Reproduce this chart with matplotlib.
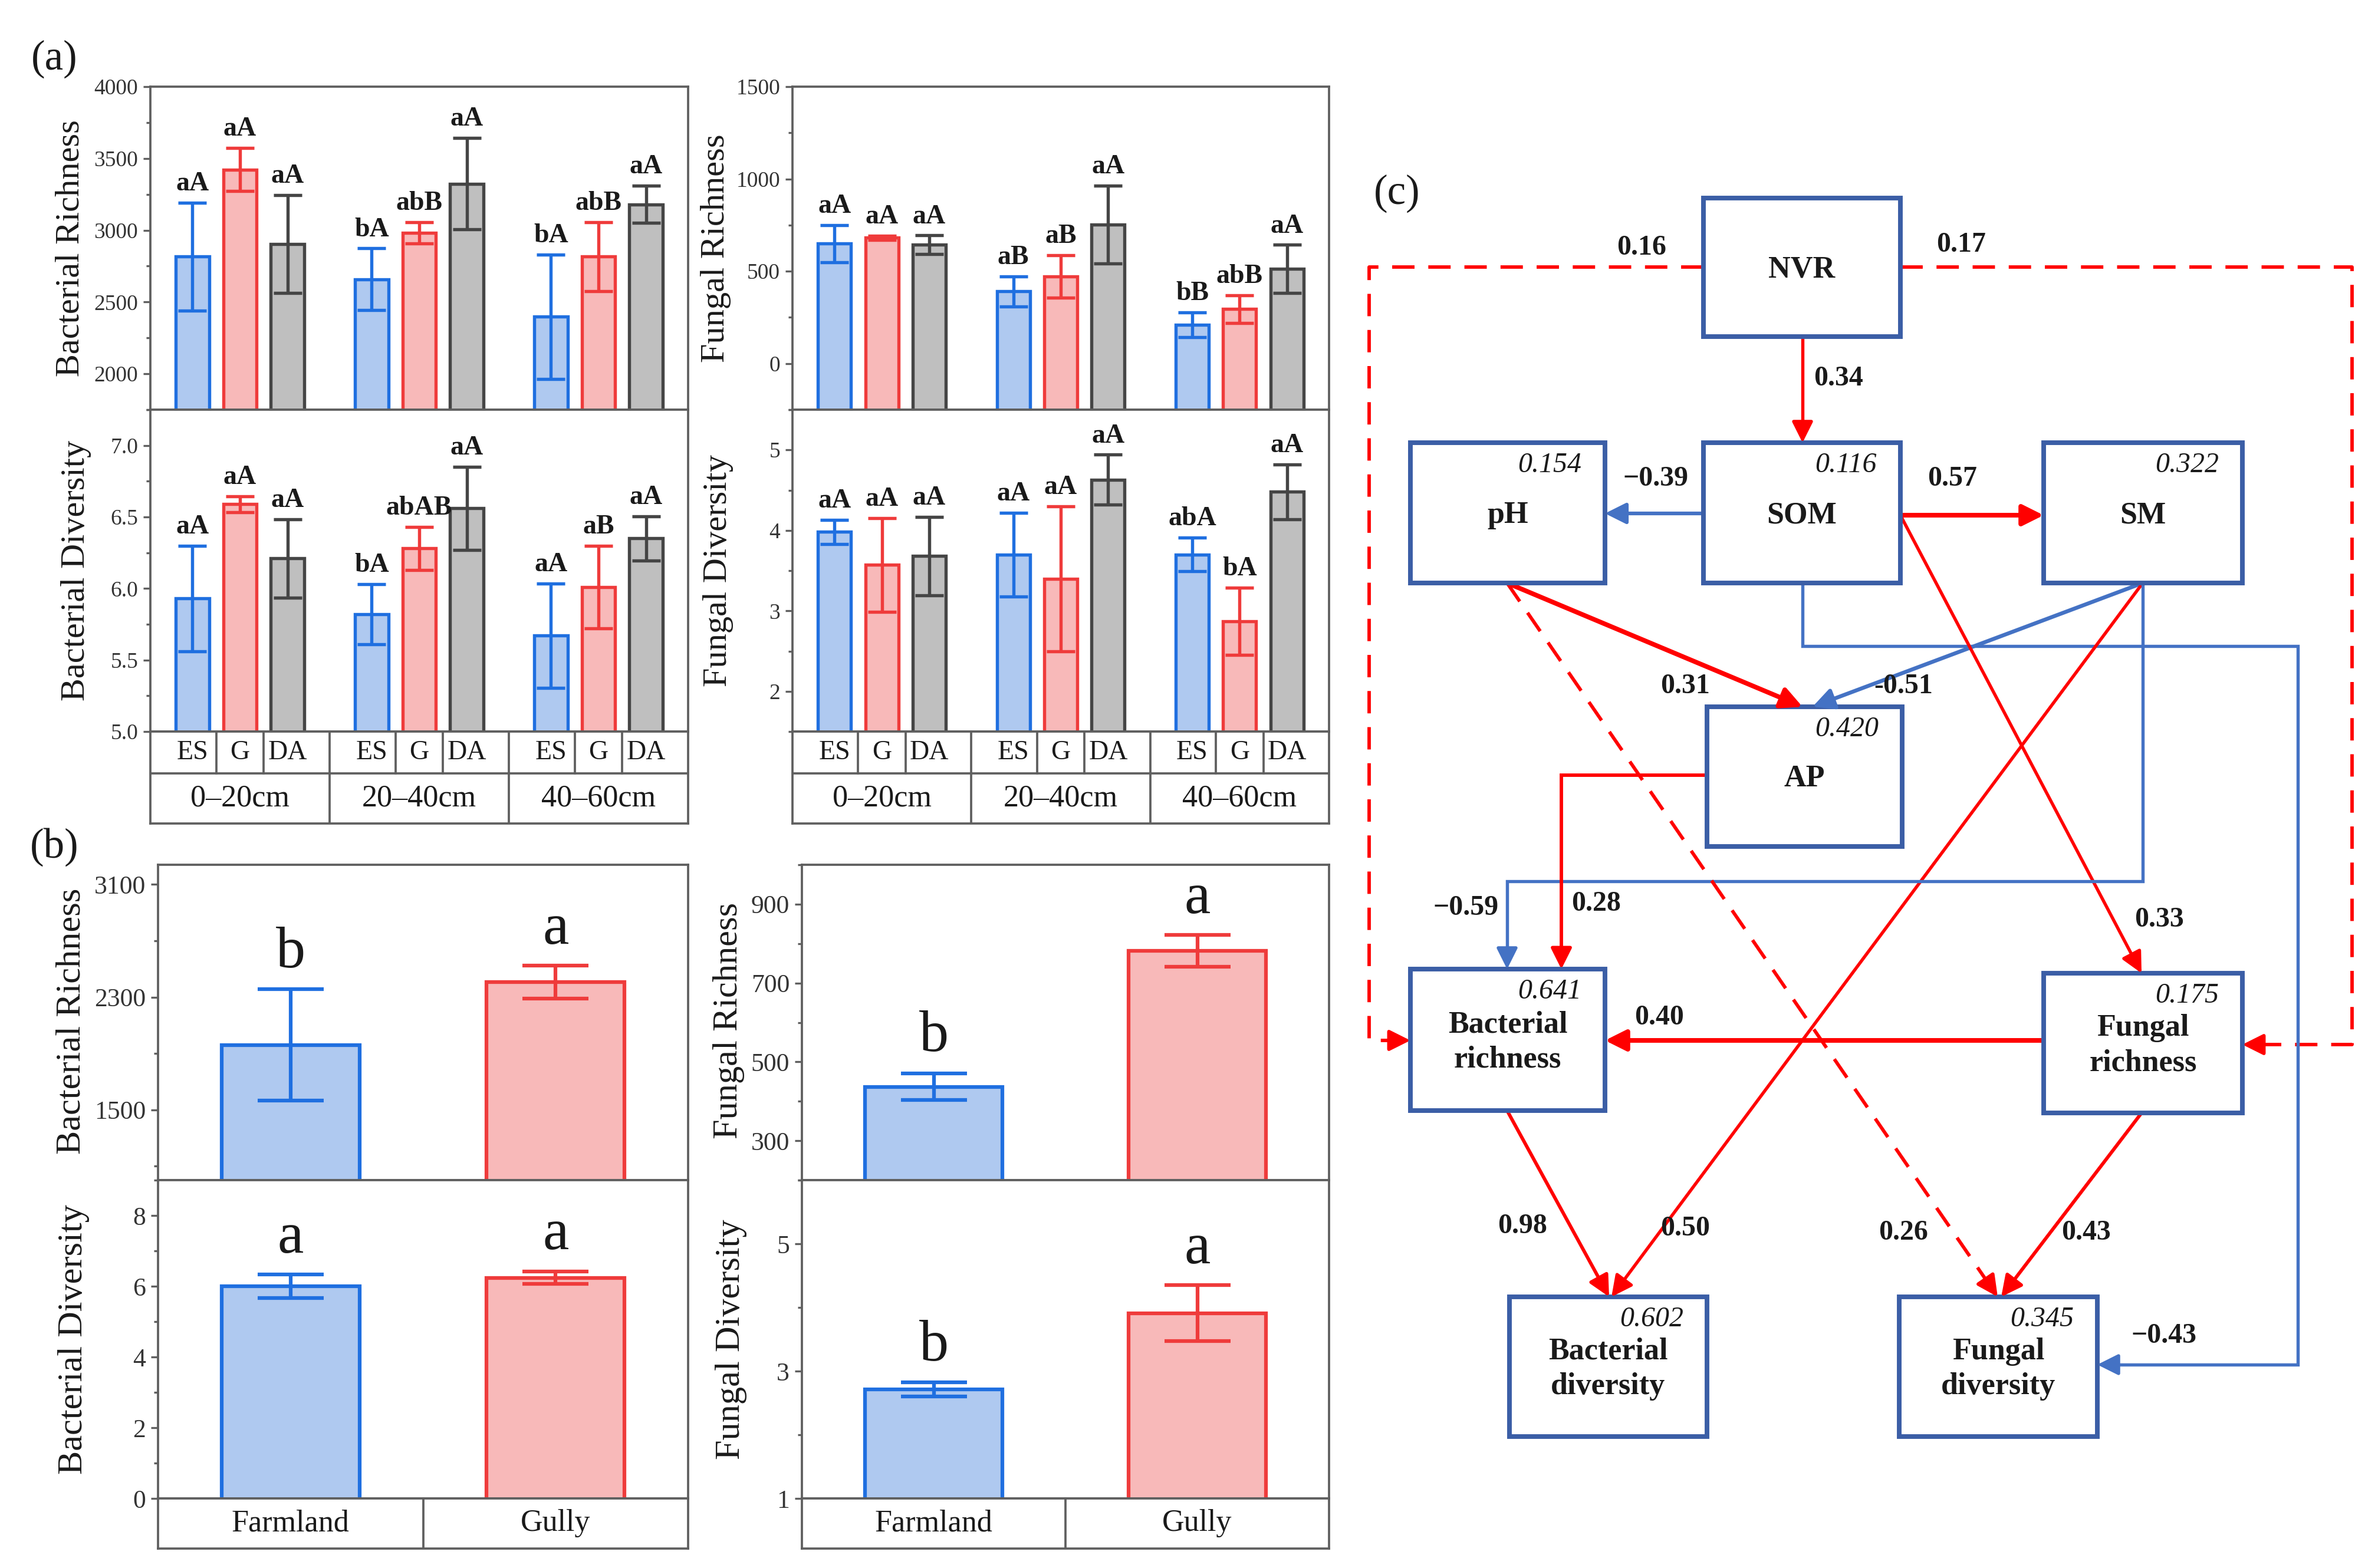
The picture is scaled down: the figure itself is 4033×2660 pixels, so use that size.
import matplotlib
matplotlib.use('Agg')
import matplotlib.pyplot as plt
from matplotlib.patches import Rectangle, ArrowStyle
from matplotlib.ticker import MultipleLocator, FixedLocator, FormatStrFormatter
import numpy as np

plt.rcParams['font.family'] = ['Liberation Serif', 'DejaVu Serif']

# ======================= DATA =======================
treatments = ['ES', 'G', 'DA']
depths = ['0–20cm', '20–40cm', '40–60cm']

# rows = ES, G, DA ; columns = depth layers
br_mean = [[2816, 2658, 2397], [3423, 2982, 2816], [2904, 3324, 3180]]
br_err = [[375, 215, 432], [150, 75, 240], [340, 318, 129]]
br_let = [['aA', 'bA', 'bA'], ['aA', 'abB', 'abB'], ['aA', 'aA', 'aA']]

bd_mean = [[5.93, 5.82, 5.67], [6.59, 6.28, 6.01], [6.21, 6.56, 6.35]]
bd_err = [[0.37, 0.21, 0.365], [0.055, 0.15, 0.29], [0.275, 0.29, 0.155]]
bd_let = [['aA', 'bA', 'aA'], ['aA', 'abAB', 'aB'], ['aA', 'aA', 'aA']]

fr_mean = [[649, 391, 210], [681, 473, 295], [644, 753, 513]]
fr_err = [[100, 82, 68], [10, 115, 76], [50, 210, 130]]
fr_let = [['aA', 'aB', 'bB'], ['aA', 'aB', 'abB'], ['aA', 'aA', 'aA']]

fd_mean = [[3.98, 3.70, 3.70], [3.57, 3.40, 2.87], [3.68, 4.63, 4.48]]
fd_err = [[0.15, 0.52, 0.21], [0.58, 0.90, 0.42], [0.49, 0.31, 0.34]]
fd_let = [['aA', 'aA', 'abA'], ['aA', 'aA', 'bA'], ['aA', 'aA', 'aA']]

land = ['Farmland', 'Gully']
lb_br_mean = [1960, 2407]
lb_br_err = [395, 117]
lb_br_let = ['b', 'a']
lb_bd_mean = [6.00, 6.24]
lb_bd_err = [0.33, 0.18]
lb_bd_let = ['a', 'a']
lb_fr_mean = [437, 782]
lb_fr_err = [34, 40]
lb_fr_let = ['b', 'a']
lb_fd_mean = [2.71, 3.91]
lb_fd_err = [0.11, 0.44]
lb_fd_let = ['b', 'a']

# SEM (panel c)
node_keys = ['NVR', 'pH', 'SOM', 'SM', 'AP', 'BR', 'FR', 'BD', 'FD']
node_text = ['NVR', 'pH', 'SOM', 'SM', 'AP', 'Bacterial\nrichness', 'Fungal\nrichness',
             'Bacterial\ndiversity', 'Fungal\ndiversity']
node_r2 = [None, '0.154', '0.116', '0.322', '0.420', '0.641', '0.175', '0.602', '0.345']
path_coef = ['0.34', '0.16', '0.17', '−0.39', '0.57', '0.31', '-0.51', '−0.43',
             '0.33', '0.50', '−0.59', '0.28', '0.40', '0.98', '0.26', '0.43']
path_sign = ['+', '+', '+', '-', '+', '+', '-', '-', '+', '+', '-', '+', '+', '+', '+', '+']
path_dashed = [False, True, True, False, False, False, False, False,
               False, False, False, False, False, False, True, False]

# ======================= LAYOUT / STYLE =======================
W, H, DPI = 4033, 2660, 300
fig = plt.figure(figsize=(W / DPI, H / DPI), dpi=DPI)

def add_ax(x0, y0, x1, y1):
    return fig.add_axes([x0 / W, 1 - y1 / H, (x1 - x0) / W, (y1 - y0) / H])

FILLS = ['#afc9f0', '#f8b9b9', '#bfbfbf']
EDGES = ['#1f6fe0', '#ef3b3b', '#454545']
SPINE = '#5f5f5f'
TXT = '#1a1a1a'
OFF = 0.265
BW = 0.185

# ---------------- SEM canvas (drawn first, transparent) ----------------
sem = fig.add_axes([0, 0, 1, 1])
sem.set_xlim(0, W)
sem.set_ylim(H, 0)
sem.axis('off')

def style_axis(ax, ylim, major, minor, fmt, lsize):
    ax.set_ylim(*ylim)
    ax.yaxis.set_major_locator(major)
    ax.yaxis.set_minor_locator(minor)
    if fmt:
        ax.yaxis.set_major_formatter(FormatStrFormatter(fmt))
    for s in ax.spines.values():
        s.set_color(SPINE)
        s.set_linewidth(0.9)
    ax.tick_params(axis='y', which='major', direction='out', length=3, width=0.8,
                   colors=SPINE, labelcolor='#333333', labelsize=lsize, pad=2)
    ax.tick_params(axis='y', which='minor', direction='out', length=1.6, width=0.8, colors=SPINE)
    ax.tick_params(axis='x', bottom=False, labelbottom=False)

def bars_a(ax, mean, err, lets, ylim, major, minor, fmt=None):
    ax.set_xlim(-0.5, 2.5)
    y0 = ylim[0] - 0.02 * (ylim[1] - ylim[0])
    for k in range(3):
        x = np.arange(3) + (k - 1) * OFF
        m = np.array(mean[k], dtype=float)
        ax.bar(x, m - y0, BW, bottom=y0, color=FILLS[k], edgecolor=EDGES[k], linewidth=1.3, zorder=2)
        ax.errorbar(x, m, yerr=err[k], fmt='none', ecolor=EDGES[k], elinewidth=1.3,
                    capsize=5.8, capthick=1.3, zorder=3)
        for xi, mi, ei, t in zip(x, m, err[k], lets[k]):
            ax.annotate(t, (xi, mi + ei), xytext=(0, 5), textcoords='offset points',
                        ha='center', va='baseline', fontsize=11, fontweight='bold', color=TXT)
    style_axis(ax, ylim, major, minor, fmt, 9)

def bars_b(ax, mean, err, lets, ylim, major, minor):
    ax.set_xlim(-0.5, 1.5)
    y0 = ylim[0] - 0.02 * (ylim[1] - ylim[0])
    x = np.arange(2)
    for i in range(2):
        ax.bar(x[i], mean[i] - y0, 0.52, bottom=y0, color=FILLS[i], edgecolor=EDGES[i],
               linewidth=1.5, zorder=2)
        ax.errorbar(x[i], mean[i], yerr=err[i], fmt='none', ecolor=EDGES[i], elinewidth=1.5,
                    capsize=13.5, capthick=1.5, zorder=3)
        ax.annotate(lets[i], (x[i], mean[i] + err[i]), xytext=(0, 9), textcoords='offset points',
                    ha='center', va='baseline', fontsize=24, color=TXT)
    style_axis(ax, ylim, major, minor, None, 10.5)

def table_a(x0, x1, y0, ysplit, y1):
    t = add_ax(x0, y0, x1, y1)
    t.set_xlim(-0.5, 2.5)
    t.set_ylim(y1, y0)
    t.set_xticks([]); t.set_yticks([])
    for s in t.spines.values():
        s.set_color(SPINE); s.set_linewidth(0.9)
    t.axhline(ysplit, color=SPINE, lw=0.9)
    for g in range(3):
        for k, tr in enumerate(treatments):
            t.text(g + (k - 1) * OFF, (y0 + ysplit) / 2, tr, ha='center', va='center',
                   fontsize=11, color=TXT)
        for sgn in (-1, 1):
            t.plot([g + sgn * OFF / 2] * 2, [y0, ysplit], color=SPINE, lw=0.9)
        t.text(g, (ysplit + y1) / 2, depths[g], ha='center', va='center', fontsize=12.5, color=TXT)
    for b in (0.5, 1.5):
        t.plot([b, b], [y0, y1], color=SPINE, lw=0.9)

def table_b(x0, x1, y0, y1):
    t = add_ax(x0, y0, x1, y1)
    t.set_xlim(-0.5, 1.5)
    t.set_ylim(y1, y0)
    t.set_xticks([]); t.set_yticks([])
    for s in t.spines.values():
        s.set_color(SPINE); s.set_linewidth(0.9)
    t.plot([0.5, 0.5], [y0, y1], color=SPINE, lw=0.9)
    for i, nm in enumerate(land):
        t.text(i, (y0 + y1) / 2, nm, ha='center', va='center', fontsize=12.5, color=TXT)

def ylab(x, y, s, size):
    fig.text(x / W, 1 - y / H, s, rotation=90, ha='center', va='center', fontsize=size, color=TXT)

# ---------------- panel (a) ----------------
ax = add_ax(255, 147, 1167, 695)
bars_a(ax, br_mean, br_err, br_let, (1750, 4000), MultipleLocator(500), MultipleLocator(250))
ax = add_ax(255, 695, 1167, 1241)
bars_a(ax, bd_mean, bd_err, bd_let, (5.0, 7.25), MultipleLocator(0.5), MultipleLocator(0.25), '%.1f')
table_a(255, 1167, 1241, 1312, 1397)

ax = add_ax(1344, 147, 2254, 695)
bars_a(ax, fr_mean, fr_err, fr_let, (-250, 1500), MultipleLocator(500), MultipleLocator(250))
ax = add_ax(1344, 695, 2254, 1241)
bars_a(ax, fd_mean, fd_err, fd_let, (1.5, 5.5), MultipleLocator(1), MultipleLocator(0.5))
table_a(1344, 2254, 1241, 1312, 1397)

ylab(119, 421, 'Bacterial Richness', 14)
ylab(129, 968, 'Bacterial Diversity', 14)
ylab(1214, 421, 'Fungal Richness', 14)
ylab(1218, 968, 'Fungal Diversity', 14)

# ---------------- panel (b) ----------------
ax = add_ax(268, 1467, 1167, 2002)
bars_b(ax, lb_br_mean, lb_br_err, lb_br_let, (1000, 3240),
       FixedLocator([1500, 2300, 3100]), FixedLocator([1100, 1900, 2700]))
ax = add_ax(268, 2002, 1167, 2542)
bars_b(ax, lb_bd_mean, lb_bd_err, lb_bd_let, (0, 9), MultipleLocator(2), MultipleLocator(1))
table_b(268, 1167, 2542, 2627)

ax = add_ax(1360, 1467, 2254, 2002)
bars_b(ax, lb_fr_mean, lb_fr_err, lb_fr_let, (200, 1000),
       FixedLocator([300, 500, 700, 900]), MultipleLocator(100))
ax = add_ax(1360, 2002, 2254, 2542)
bars_b(ax, lb_fd_mean, lb_fd_err, lb_fd_let, (1, 6), FixedLocator([1, 3, 5]), MultipleLocator(1))
table_b(1360, 2254, 2542, 2627)

ylab(121, 1732, 'Bacterial Richness', 14.5)
ylab(125, 2272, 'Bacterial Diversity', 14.5)
ylab(1236, 1732, 'Fungal Richness', 14.5)
ylab(1240, 2272, 'Fungal Diversity', 14.5)

# panel letters
fig.text(92 / W, 1 - 100 / H, '(a)', ha='center', va='center', fontsize=17, color=TXT)
fig.text(92 / W, 1 - 1437 / H, '(b)', ha='center', va='center', fontsize=17, color=TXT)
fig.text(2369 / W, 1 - 328 / H, '(c)', ha='center', va='center', fontsize=17, color=TXT)

# ---------------- panel (c) SEM ----------------
BOX = '#3b5ea6'
RED = '#ff0000'
BLUE = '#4472c4'
node_box = {
    'NVR': (2889, 336, 3223, 571),
    'pH': (2392, 751, 2722, 989),
    'SOM': (2889, 751, 3223, 989),
    'SM': (3466, 751, 3803, 989),
    'AP': (2895, 1199, 3226, 1436),
    'BR': (2392, 1644, 2722, 1884),
    'FR': (3466, 1651, 3803, 1888),
    'BD': (2560, 2200, 2895, 2437),
    'FD': (3221, 2200, 3557, 2437),
}
for key, txt, r2 in zip(node_keys, node_text, node_r2):
    x0, y0, x1, y1 = node_box[key]
    sem.add_patch(Rectangle((x0, y0), x1 - x0, y1 - y0, fill=False, ec=BOX, lw=1.9, zorder=3))
    sem.text((x0 + x1) / 2, (y0 + y1) / 2 + 4, txt, ha='center', va='center', fontsize=12.5,
             fontweight='bold', linespacing=1.3, color=TXT, zorder=4)
    if r2:
        sem.text(x1 - 40, y0 + 16, r2, ha='right', va='top', fontsize=11.5, style='italic',
                 color=TXT, zorder=4)

path_pts = [
    [(3057, 571), (3057, 751)],
    [(2889, 453), (2322, 453), (2322, 1765), (2392, 1765)],
    [(3223, 453), (3989, 453), (3989, 1772), (3803, 1772)],
    [(2889, 871), (2722, 871)],
    [(3223, 874), (3466, 874)],
    [(2556, 989), (3057, 1199)],
    [(3634, 989), (3074, 1199)],
    [(3057, 989), (3057, 1096), (3897, 1096), (3897, 2315), (3557, 2315)],
    [(3223, 874), (3632, 1651)],
    [(3634, 989), (2733, 2200)],
    [(3634, 989), (3634, 1495), (2556, 1495), (2556, 1644)],
    [(2895, 1315), (2648, 1315), (2648, 1644)],
    [(3466, 1765), (2722, 1765)],
    [(2556, 1884), (2729, 2200)],
    [(2556, 989), (3388, 2200)],
    [(3632, 1888), (3394, 2200)],
]
path_lw = [1.3, 1.4, 1.4, 1.5, 1.9, 1.9, 1.6, 1.3, 1.3, 1.3, 1.3, 1.4, 1.9, 1.4, 1.4, 1.4]
label_pos = [(3118, 642), (2784, 420), (3326, 415), (2808, 812), (3311, 812), (2858, 1164),
             (3228, 1164), (3670, 2266), (3662, 1560), (2858, 2084), (2486, 1540), (2707, 1533),
             (2814, 1726), (2582, 2080), (3228, 2091), (3538, 2091)]

head = ArrowStyle('-|>', head_length=0.4, head_width=0.2)
for pts, sgn, dashed, lw, coef, lp in zip(path_pts, path_sign, path_dashed, path_lw,
                                         path_coef, label_pos):
    col = RED if sgn == '+' else BLUE
    pts = np.array(pts, dtype=float)
    end = pts[-1]
    d = end - pts[-2]
    u = d / np.hypot(*d)
    line = pts.copy()
    line[-1] = end - u * 20
    sem.plot(line[:, 0], line[:, 1], color=col, lw=lw,
             ls=(0, (6.5, 4)) if dashed else '-', solid_joinstyle='miter',
             solid_capstyle='butt', dash_capstyle='butt', zorder=2)
    sem.annotate('', xy=tuple(end), xytext=tuple(end - u * 32),
                 arrowprops=dict(arrowstyle=head, mutation_scale=18, color=col, lw=lw,
                                 shrinkA=0, shrinkB=0), zorder=3)
    sem.text(lp[0], lp[1], coef, ha='center', va='center', fontsize=11.5, fontweight='bold',
             color=TXT, zorder=4)

fig.savefig('out.png', dpi=DPI)
